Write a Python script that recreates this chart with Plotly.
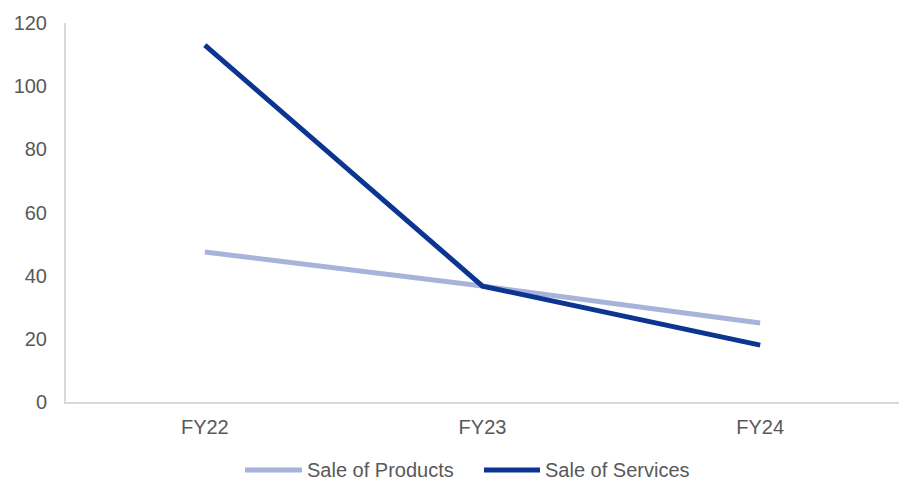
import plotly.graph_objects as go

# Fiscal years and sales figures
years = ["FY22", "FY23", "FY24"]
products = [47.5, 36.7, 25.0]
services = [113.0, 36.7, 18.0]
series_names = ["Sale of Products", "Sale of Services"]
y_ticks = [0, 20, 40, 60, 80, 100, 120]

c_products = "#A8B3DB"
c_services = "#0B3590"
font_family = "Liberation Sans, Arial, sans-serif"
text_color = "#595959"
axis_color = "#D9D9D9"
fsize = 20

fig = go.Figure()
fig.add_trace(go.Scatter(x=years, y=products, mode="lines", name=series_names[0],
                         line=dict(color=c_products, width=5), showlegend=False))
fig.add_trace(go.Scatter(x=years, y=services, mode="lines", name=series_names[1],
                         line=dict(color=c_services, width=5), showlegend=False))

W, H = 909, 482
ml, mr, mt, mb = 66, 10, 23, 80
pw, ph = W - ml - mr, H - mt - mb

def px_x(x):
    return (x - ml) / pw

def px_y(y):
    return (H - mb - y) / ph

# Custom legend below the plot: long line keys followed by labels
legend_items = [(series_names[0], c_products, 245, 302, 305),
                (series_names[1], c_services, 484, 540, 543)]
shapes = []
annotations = []
for name, color, x0, x1, tx in legend_items:
    shapes.append(dict(type="line", xref="paper", yref="paper",
                       x0=px_x(x0), x1=px_x(x1), y0=px_y(470), y1=px_y(470),
                       line=dict(color=color, width=5)))
    annotations.append(dict(text=name, xref="paper", yref="paper",
                            x=px_x(tx), y=px_y(470), xanchor="left", yanchor="middle",
                            showarrow=False, font=dict(size=fsize, color=text_color,
                                                       family=font_family)))

fig.update_layout(
    width=W, height=H,
    margin=dict(l=ml, r=mr, t=mt, b=mb),
    paper_bgcolor="white", plot_bgcolor="white",
    font=dict(family=font_family, size=fsize, color=text_color),
    shapes=shapes,
    annotations=annotations,
    xaxis=dict(showgrid=False, showline=True, linecolor=axis_color, linewidth=2,
               range=[-0.5, 2.5], ticks="", ticklabelstandoff=6,
               tickfont=dict(size=fsize, color=text_color), zeroline=False),
    yaxis=dict(showgrid=False, showline=True, linecolor=axis_color, linewidth=2,
               range=[0, 120], tickvals=y_ticks, ticks="", ticklabelstandoff=13,
               tickfont=dict(size=fsize, color=text_color), zeroline=False),
)

fig.write_html("out.html")
